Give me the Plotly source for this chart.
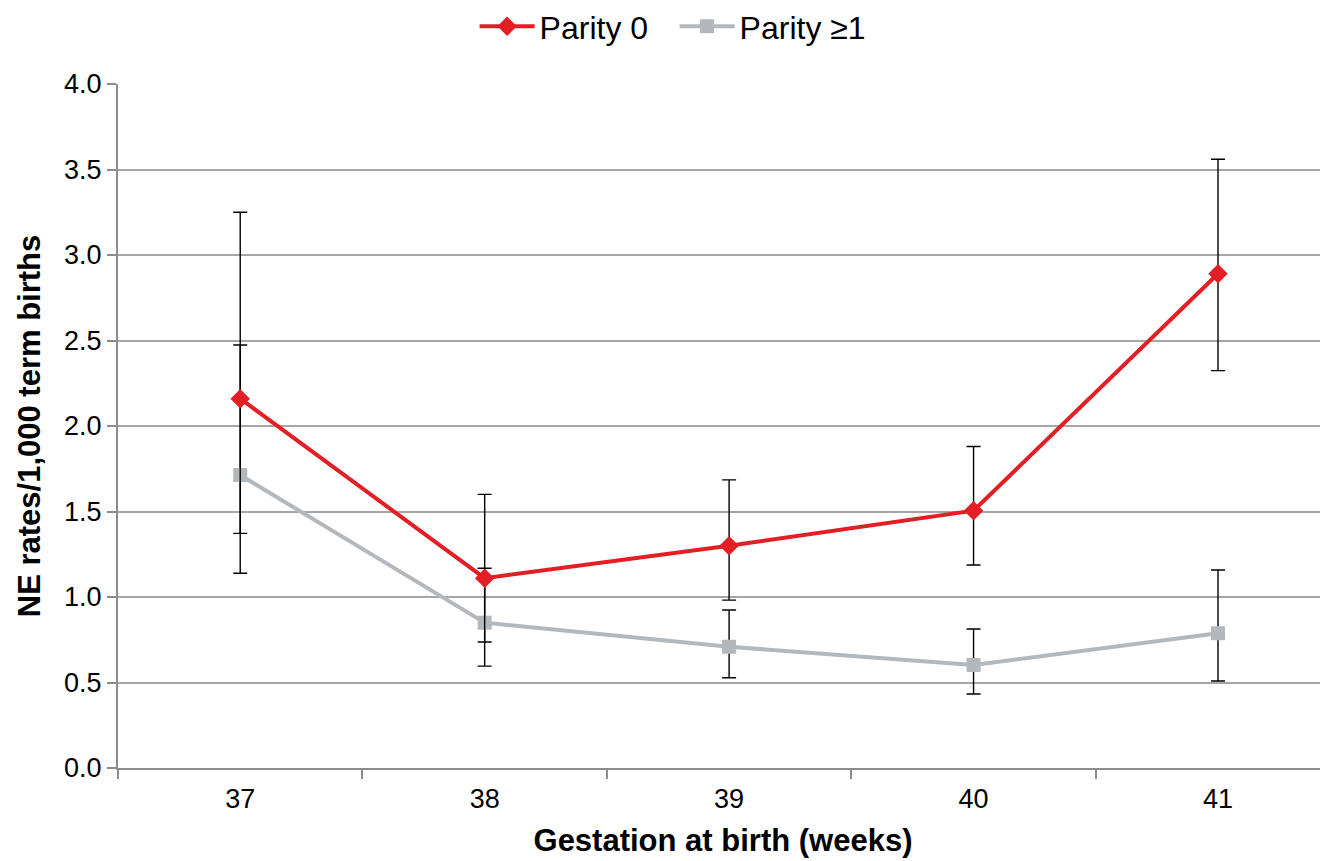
import plotly.graph_objects as go

weeks = ["37", "38", "39", "40", "41"]
parity0 = [2.16, 1.11, 1.30, 1.505, 2.89]
parity0_hi = [3.25, 1.60, 1.685, 1.88, 3.56]
parity0_lo = [1.372, 0.737, 0.982, 1.187, 2.324]
parity1 = [1.713, 0.850, 0.709, 0.602, 0.788]
parity1_hi = [2.474, 1.168, 0.924, 0.813, 1.158]
parity1_lo = [1.139, 0.596, 0.528, 0.433, 0.509]

RED = "#e31e24"
GREY = "#b3b8bd"
FONT = "Liberation Sans, Arial, sans-serif"


def err(vals, hi, lo):
    return dict(
        type="data", symmetric=False,
        array=[h - v for h, v in zip(hi, vals)],
        arrayminus=[v - l for v, l in zip(vals, lo)],
        color="black", thickness=1.4, width=7,
    )


fig = go.Figure()
fig.add_trace(go.Scatter(
    x=weeks, y=parity1, name="Parity ≥1", mode="lines+markers",
    line=dict(color=GREY, width=4),
    marker=dict(symbol="square", size=14, color=GREY),
    error_y=err(parity1, parity1_hi, parity1_lo),
))
fig.add_trace(go.Scatter(
    x=weeks, y=parity0, name="Parity 0", mode="lines+markers",
    line=dict(color=RED, width=4),
    marker=dict(symbol="diamond", size=15, color=RED),
    error_y=err(parity0, parity0_hi, parity0_lo),
))

fig.update_layout(
    width=1320, height=853,
    margin=dict(l=110, r=0, t=76, b=93, autoexpand=False),
    paper_bgcolor="white", plot_bgcolor="white",
    font=dict(family=FONT, size=27, color="black"),
    showlegend=True,
    legend=dict(
        orientation="h", x=0.46, xanchor="center", y=1.084, yanchor="middle",
        yref="paper", traceorder="reversed",
        font=dict(size=32), itemwidth=55,
        entrywidth=130, entrywidthmode="pixels",
    ),
    xaxis=dict(
        type="category", categoryorder="array", categoryarray=weeks,
        range=[-0.5, 4.45],
        showline=True, linecolor="#8c8c8c", linewidth=2,
        ticks="outside", tickson="boundaries", ticklen=9, tickcolor="#8c8c8c", tickwidth=1.5,
        showgrid=False,
        tickfont=dict(size=27), ticklabelstandoff=6,
        title=dict(text="<b>Gestation at birth (weeks)</b>", font=dict(size=31), standoff=16),
    ),
    yaxis=dict(
        range=[0, 4.0], dtick=0.5, tickformat=".1f",
        showline=True, linecolor="#8c8c8c", linewidth=2,
        ticks="outside", ticklen=9, tickcolor="#8c8c8c", tickwidth=1.5,
        showgrid=True, gridcolor="#a6a6a6", gridwidth=1.5,
        zeroline=False,
        tickfont=dict(size=27),
        title=dict(text="<b>NE rates/1,000 term births</b>", font=dict(size=31), standoff=14),
    ),
)

fig.write_html("out.html")
